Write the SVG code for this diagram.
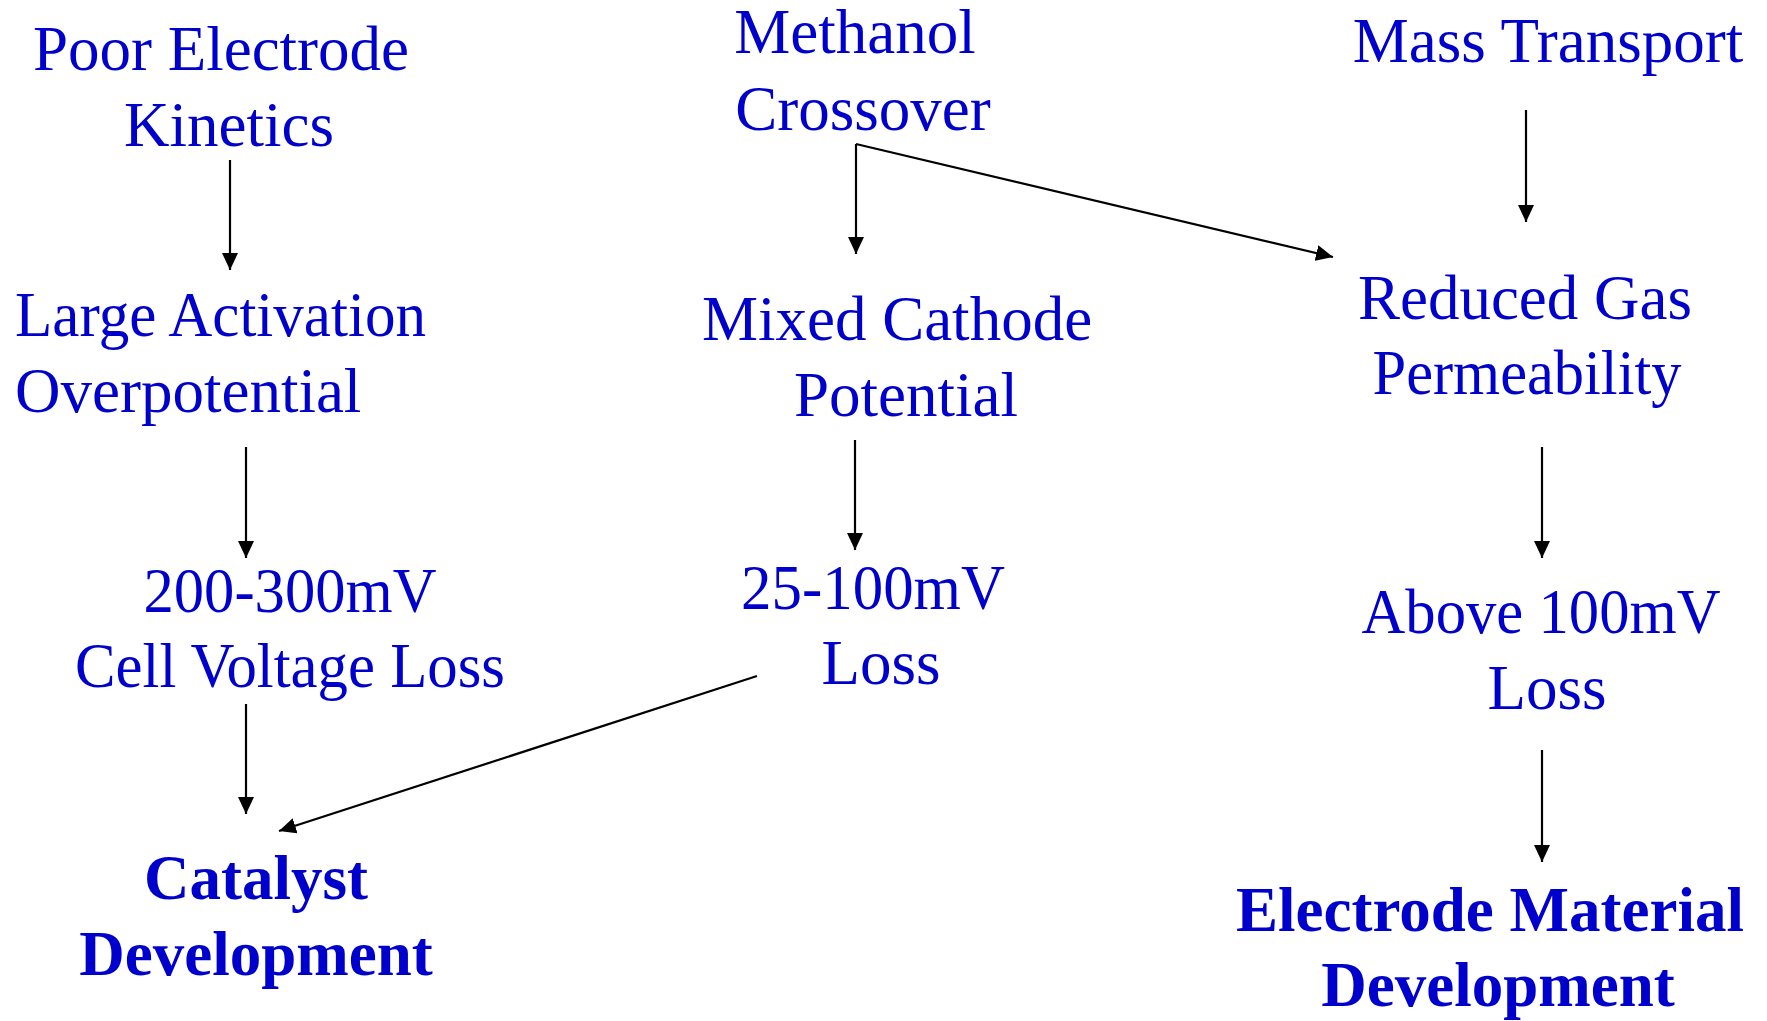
<svg xmlns="http://www.w3.org/2000/svg" width="1767" height="1021" viewBox="0 0 1767 1021">
  <style>
    .t { font-family: "Liberation Serif", "Times New Roman", serif; font-size: 63px; fill: #0000CC; }
    .c { text-anchor: middle; }
    .b { font-weight: bold; }
    .arrow { stroke: #000; stroke-width: 2.2; fill: none; marker-end: url(#head); }
  </style>
  <defs>
    <marker id="head" markerUnits="userSpaceOnUse" markerWidth="18" markerHeight="16" refX="17" refY="8" orient="auto">
      <path d="M0,0 L17,8 L0,16 Z" fill="#000"/>
    </marker>
  </defs>
  <rect width="1767" height="1021" fill="#fff"/>

  <!-- left column -->
  <g id="poor-kinetics">
    <text class="t c" x="221" y="70">Poor Electrode</text>
    <text class="t c" x="229" y="146">Kinetics</text>
  </g>
  <g id="activation">
    <text class="t" x="15" y="336" textLength="411" lengthAdjust="spacingAndGlyphs">Large Activation</text>
    <text class="t" x="15" y="412">Overpotential</text>
  </g>
  <g id="loss-200-300">
    <text class="t c" x="290" y="612" textLength="293" lengthAdjust="spacingAndGlyphs">200-300mV</text>
    <text class="t c" x="290" y="687" textLength="430" lengthAdjust="spacingAndGlyphs">Cell Voltage Loss</text>
  </g>
  <g id="catalyst">
    <text class="t c b" x="256" y="899">Catalyst</text>
    <text class="t c b" x="256" y="975">Development</text>
  </g>

  <!-- middle column -->
  <g id="crossover">
    <text class="t c" x="855" y="53">Methanol</text>
    <text class="t c" x="863" y="130">Crossover</text>
  </g>
  <g id="mixed-potential">
    <text class="t c" x="897" y="340">Mixed Cathode</text>
    <text class="t c" x="906" y="416">Potential</text>
  </g>
  <g id="loss-25-100">
    <text class="t c" x="873" y="609" textLength="264" lengthAdjust="spacingAndGlyphs">25-100mV</text>
    <text class="t c" x="881" y="684">Loss</text>
  </g>

  <!-- right column -->
  <g id="mass-transport">
    <text class="t c" x="1548" y="62">Mass Transport</text>
  </g>
  <g id="gas-permeability">
    <text class="t c" x="1525" y="319">Reduced Gas</text>
    <text class="t c" x="1527" y="394" textLength="309" lengthAdjust="spacingAndGlyphs">Permeability</text>
  </g>
  <g id="loss-above-100">
    <text class="t c" x="1541" y="633" textLength="359" lengthAdjust="spacingAndGlyphs">Above 100mV</text>
    <text class="t c" x="1547" y="709">Loss</text>
  </g>
  <g id="electrode-material">
    <text class="t c b" x="1490" y="931">Electrode Material</text>
    <text class="t c b" x="1498" y="1006">Development</text>
  </g>

  <!-- connectors -->
  <g id="connectors">
    <line class="arrow" x1="230" y1="160" x2="230" y2="270"/>
    <line class="arrow" x1="246" y1="447" x2="246" y2="558"/>
    <line class="arrow" x1="246" y1="704" x2="246" y2="814"/>
    <line class="arrow" x1="757" y1="676" x2="279" y2="831"/>
    <line class="arrow" x1="856" y1="144" x2="856" y2="254"/>
    <line class="arrow" x1="856" y1="144" x2="1333" y2="257"/>
    <line class="arrow" x1="855" y1="440" x2="855" y2="550"/>
    <line class="arrow" x1="1526" y1="110" x2="1526" y2="222"/>
    <line class="arrow" x1="1542" y1="447" x2="1542" y2="558"/>
    <line class="arrow" x1="1542" y1="750" x2="1542" y2="862"/>
  </g>
</svg>
